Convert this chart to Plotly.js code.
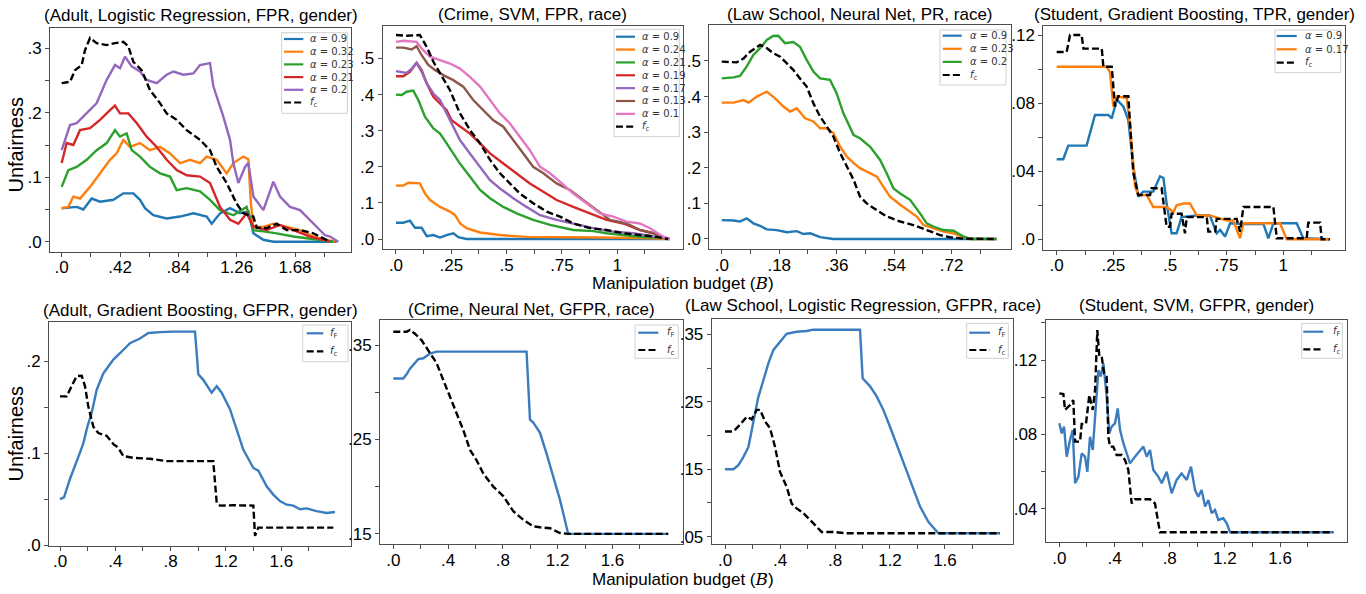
<!DOCTYPE html>
<html><head><meta charset="utf-8">
<script src="https://cdn.plot.ly/plotly-3.0.1.min.js"></script>
<style>html,body{margin:0;padding:0;background:#fff}#chart{width:1366px;height:594px}</style>
</head><body><div id="chart"></div>
<script>
// ===== Panel 1: (Adult, Logistic Regression, FPR, gender)
const p1_alpha = ['0.9','0.32','0.23','0.21','0.2'];
const p1_a09_x = [0,0.108,0.156,0.216,0.276,0.372,0.444,0.516,0.564,0.6,0.66,0.756,0.852,0.948,1.044,1.08,1.14,1.212,1.284,1.344,1.38,1.452,1.524,1.98];
const p1_a09_y = [0.052,0.054,0.05,0.067,0.062,0.065,0.075,0.075,0.065,0.052,0.041,0.036,0.039,0.044,0.039,0.028,0.044,0.052,0.044,0.047,0.013,0.003,0,0];
const p1_a032_x = [0,0.048,0.084,0.132,0.204,0.276,0.348,0.396,0.444,0.492,0.564,0.636,0.708,0.78,0.852,0.924,0.996,1.044,1.116,1.188,1.236,1.308,1.344,1.362,1.38,1.452,1.524,1.62,1.716,1.812,1.908,1.968];
const p1_a032_y = [0.052,0.054,0.07,0.067,0.085,0.106,0.127,0.137,0.158,0.147,0.153,0.142,0.147,0.137,0.122,0.127,0.122,0.132,0.127,0.106,0.122,0.132,0.128,0.06,0.023,0.023,0.028,0.023,0.018,0.008,0.003,0];
const p1_a023_x = [0,0.048,0.108,0.18,0.252,0.324,0.384,0.42,0.468,0.504,0.564,0.636,0.708,0.78,0.828,0.9,0.996,1.068,1.14,1.236,1.332,1.38,1.452,1.548,1.668,1.812,1.956];
const p1_a023_y = [0.085,0.111,0.116,0.127,0.142,0.153,0.173,0.163,0.168,0.142,0.132,0.116,0.106,0.101,0.080,0.083,0.078,0.065,0.049,0.041,0.054,0.018,0.016,0.013,0.008,0.004,0];
const p1_a021_x = [0,0.036,0.084,0.132,0.204,0.276,0.348,0.384,0.42,0.48,0.54,0.612,0.684,0.756,0.828,0.9,0.996,1.068,1.14,1.212,1.272,1.332,1.38,1.476,1.572,1.668,1.788,1.932];
const p1_a021_y = [0.122,0.153,0.150,0.173,0.176,0.189,0.204,0.211,0.199,0.199,0.184,0.163,0.147,0.127,0.111,0.103,0.101,0.091,0.054,0.034,0.028,0.044,0.023,0.018,0.026,0.018,0.008,0];
const p1_a02_x = [0,0.06,0.108,0.18,0.252,0.324,0.384,0.42,0.456,0.504,0.564,0.612,0.684,0.756,0.804,0.876,0.948,0.996,1.068,1.092,1.164,1.212,1.236,1.272,1.32,1.344,1.38,1.452,1.524,1.572,1.644,1.716,1.812,1.896,1.932,1.992];
const p1_a02_y = [0.142,0.181,0.184,0.199,0.215,0.251,0.274,0.269,0.287,0.272,0.264,0.251,0.246,0.259,0.264,0.259,0.261,0.274,0.277,0.241,0.194,0.158,0.122,0.091,0.116,0.122,0.070,0.049,0.093,0.070,0.054,0.049,0.028,0.010,0.008,0];
const p1_fc_x = [0,0.06,0.096,0.144,0.168,0.204,0.252,0.324,0.384,0.444,0.48,0.516,0.576,0.636,0.708,0.756,0.828,0.9,0.996,1.068,1.116,1.188,1.26,1.308,1.38,1.404,1.476,1.548,1.62,1.716,1.812,1.932];
const p1_fc_y = [0.246,0.248,0.266,0.274,0.297,0.316,0.308,0.305,0.308,0.310,0.303,0.279,0.266,0.235,0.215,0.199,0.189,0.173,0.158,0.142,0.116,0.091,0.059,0.044,0.039,0.022,0.021,0.028,0.018,0.018,0.013,0];
const p1_xticks = [0,0.42,0.84,1.26,1.68];
const p1_xlabels = ['.0','.42','.84','1.26','1.68'];
const p1_xminor = [0.21,0.63,1.05,1.47,1.89];
const p1_yticks = [0,0.1,0.2,0.3];
const p1_ylabels = ['.0','.1','.2','.3'];
const p1_yminor = [0.05,0.15,0.25];

// ===== Panel 2: (Crime, SVM, FPR, race)
const p2_alpha = ['0.9','0.24','0.21','0.19','0.17','0.13','0.1'];
const p2_a09_x = [0,0.033,0.063,0.086,0.116,0.139,0.169,0.199,0.229,0.259,0.282,0.319,1.238];
const p2_a09_y = [0.045,0.045,0.051,0.031,0.031,0.008,0.011,0.004,0.011,0.016,0.005,0,0];
const p2_a024_x = [0,0.033,0.056,0.108,0.131,0.154,0.199,0.244,0.267,0.29,0.319,0.380,0.470,0.590,0.801,1.102,1.238];
const p2_a024_y = [0.148,0.148,0.156,0.154,0.126,0.108,0.089,0.076,0.066,0.043,0.030,0.018,0.011,0.006,0.005,0.003,0];
const p2_a021_x = [0,0.026,0.048,0.078,0.101,0.131,0.169,0.199,0.229,0.259,0.289,0.334,0.380,0.425,0.485,0.545,0.620,0.696,0.801,0.892,0.952,1.027,1.102,1.208,1.238];
const p2_a021_y = [0.400,0.399,0.408,0.411,0.385,0.339,0.306,0.292,0.265,0.237,0.209,0.173,0.136,0.113,0.089,0.071,0.053,0.039,0.025,0.022,0.016,0.011,0.006,0.003,0];
const p2_a019_x = [0,0.033,0.063,0.093,0.116,0.139,0.169,0.199,0.229,0.251,0.289,0.334,0.380,0.425,0.485,0.545,0.605,0.666,0.726,0.801,0.877,0.952,1.027,1.102,1.163,1.208,1.230];
const p2_a019_y = [0.451,0.451,0.463,0.488,0.468,0.431,0.394,0.375,0.357,0.329,0.311,0.292,0.265,0.237,0.209,0.182,0.154,0.131,0.108,0.089,0.071,0.053,0.043,0.025,0.016,0.006,0];
const p2_a017_x = [0,0.048,0.071,0.093,0.116,0.139,0.169,0.199,0.229,0.259,0.289,0.334,0.380,0.425,0.470,0.530,0.590,0.651,0.726,0.801,0.892,0.983,1.072,1.178,1.238];
const p2_a017_y = [0.465,0.460,0.472,0.488,0.463,0.431,0.403,0.385,0.348,0.311,0.274,0.237,0.200,0.163,0.140,0.113,0.089,0.066,0.053,0.043,0.030,0.020,0.016,0.006,0];
const p2_a013_x = [0,0.033,0.071,0.093,0.116,0.146,0.176,0.214,0.259,0.304,0.349,0.395,0.440,0.485,0.530,0.575,0.620,0.666,0.726,0.786,0.846,0.907,0.967,1.042,1.102,1.163,1.223];
const p2_a013_y = [0.530,0.530,0.525,0.534,0.509,0.482,0.468,0.454,0.440,0.422,0.385,0.357,0.329,0.311,0.274,0.237,0.200,0.182,0.154,0.136,0.108,0.080,0.053,0.043,0.025,0.016,0];
const p2_a01_x = [0,0.033,0.093,0.123,0.154,0.199,0.244,0.289,0.334,0.380,0.425,0.470,0.515,0.560,0.605,0.651,0.696,0.741,0.801,0.861,0.922,0.982,1.042,1.102,1.148,1.208,1.238];
const p2_a01_y = [0.546,0.549,0.546,0.523,0.505,0.495,0.486,0.472,0.449,0.422,0.385,0.348,0.320,0.283,0.246,0.200,0.182,0.159,0.126,0.099,0.071,0.062,0.048,0.043,0.030,0.006,0];
const p2_fc_x = [0,0.048,0.108,0.139,0.169,0.199,0.244,0.289,0.334,0.380,0.425,0.470,0.515,0.560,0.620,0.681,0.741,0.801,0.877,0.952,1.027,1.102,1.178,1.230];
const p2_fc_y = [0.565,0.563,0.565,0.532,0.491,0.458,0.412,0.348,0.302,0.265,0.219,0.182,0.154,0.126,0.099,0.076,0.062,0.043,0.030,0.025,0.016,0.011,0.006,0];
const p2_xticks = [0,0.25,0.5,0.75,1];
const p2_xlabels = ['.0','.25','.5','.75','1'];
const p2_xminor = [0.125,0.375,0.625,0.875,1.125];
const p2_yticks = [0,0.1,0.2,0.3,0.4,0.5];
const p2_ylabels = ['.0','.1','.2','.3','.4','.5'];
const p2_yminor = [];

// ===== Panel 3: (Law School, Neural Net, PR, race)
const p3_alpha = ['0.9','0.23','0.2'];
const p3_a09_x = [0,0.037,0.057,0.078,0.099,0.12,0.141,0.172,0.204,0.235,0.256,0.277,0.308,0.350,0.861];
const p3_a09_y = [0.053,0.052,0.049,0.058,0.044,0.037,0.027,0.025,0.019,0.022,0.014,0.016,0.005,0,0];
const p3_a023_x = [0,0.037,0.068,0.084,0.110,0.141,0.167,0.193,0.214,0.235,0.261,0.287,0.308,0.329,0.350,0.371,0.392,0.413,0.433,0.465,0.486,0.506,0.527,0.559,0.590,0.611,0.632,0.663,0.695,0.726,0.757,0.778,0.861];
const p3_a023_y = [0.383,0.383,0.390,0.383,0.400,0.414,0.395,0.372,0.358,0.367,0.339,0.330,0.311,0.311,0.297,0.259,0.231,0.213,0.199,0.184,0.175,0.147,0.119,0.096,0.077,0.063,0.039,0.030,0.021,0.016,0.005,0,0];
const p3_a02_x = [0,0.037,0.057,0.078,0.099,0.120,0.141,0.161,0.177,0.198,0.224,0.245,0.266,0.287,0.308,0.339,0.360,0.381,0.413,0.433,0.465,0.496,0.517,0.538,0.559,0.590,0.621,0.642,0.663,0.694,0.726,0.757,0.778,0.861];
const p3_a02_y = [0.451,0.454,0.458,0.484,0.517,0.536,0.559,0.570,0.571,0.550,0.553,0.540,0.503,0.470,0.451,0.447,0.409,0.353,0.292,0.283,0.259,0.222,0.184,0.142,0.128,0.110,0.072,0.044,0.035,0.025,0.023,0.007,0,0];
const p3_fc_x = [0,0.047,0.068,0.089,0.120,0.141,0.161,0.183,0.204,0.224,0.245,0.266,0.287,0.308,0.329,0.350,0.371,0.392,0.413,0.433,0.454,0.485,0.517,0.559,0.600,0.642,0.684,0.715,0.757,0.861];
const p3_fc_y = [0.498,0.496,0.507,0.526,0.545,0.536,0.522,0.512,0.493,0.475,0.451,0.428,0.381,0.344,0.316,0.287,0.241,0.203,0.166,0.119,0.100,0.081,0.063,0.049,0.039,0.025,0.011,0.005,0.001,0];
const p3_xticks = [0,0.18,0.36,0.54,0.72];
const p3_xlabels = ['.0','.18','.36','.54','.72'];
const p3_xminor = [0.09,0.27,0.45,0.63,0.81];
const p3_yticks = [0,0.1,0.2,0.3,0.4,0.5];
const p3_ylabels = ['.0','.1','.2','.3','.4','.5'];
const p3_yminor = [];

// ===== Panel 4: (Student, Gradient Boosting, TPR, gender)
const p4_alpha = ['0.9','0.17'];
const p4_a09_x = [0,0.029,0.051,0.132,0.169,0.228,0.243,0.265,0.294,0.316,0.338,0.360,0.382,0.426,0.456,0.471,0.485,0.507,0.529,0.551,0.618,0.676,0.706,0.721,0.743,0.765,0.824,0.912,0.934,0.956,1.059,1.088,1.206];
const p4_a09_y = [0.047,0.047,0.055,0.055,0.073,0.073,0.071,0.082,0.078,0.070,0.043,0.025,0.028,0.028,0.037,0.036,0.021,0.0035,0.0035,0.013,0.014,0.014,0.0035,0.0055,0.0016,0.0094,0.009,0.009,0.0006,0.0094,0.0094,0.0006,0];
const p4_a017_x = [0,0.221,0.235,0.250,0.265,0.309,0.324,0.346,0.360,0.397,0.426,0.485,0.515,0.529,0.559,0.588,0.618,0.676,0.75,0.779,0.809,0.824,0.985,1.015,1.206];
const p4_a017_y = [0.1014,0.1014,0.098,0.078,0.084,0.083,0.066,0.031,0.026,0.026,0.019,0.019,0.016,0.020,0.021,0.021,0.014,0.014,0.011,0.011,0.0006,0.0094,0.0094,0,0];
const p4_fc_x = [0,0.044,0.059,0.110,0.118,0.199,0.206,0.243,0.257,0.272,0.316,0.338,0.360,0.412,0.419,0.463,0.485,0.5,0.507,0.551,0.566,0.574,0.662,0.669,0.699,0.706,0.794,0.809,0.824,0.956,0.971,1.103,1.110,1.162,1.169,1.206];
const p4_fc_y = [0.110,0.110,0.120,0.120,0.112,0.112,0.1014,0.1014,0.078,0.084,0.084,0.039,0.026,0.026,0.030,0.030,0.0074,0.0074,0.015,0.015,0.0035,0.013,0.013,0.0045,0.0045,0.012,0.012,0.0045,0.019,0.019,0.0006,0.0006,0.0098,0.0098,0,0];
const p4_xticks = [0,0.25,0.5,0.75,1];
const p4_xlabels = ['.0','.25','.5','.75','1'];
const p4_xminor = [0.125,0.375,0.625,0.875,1.125];
const p4_yticks = [0,0.04,0.08,0.12];
const p4_ylabels = ['.0','.04','.08','.12'];
const p4_yminor = [0.02,0.06,0.10];

// ===== Panel 5: (Adult, Gradient Boosting, GFPR, gender)
const p5_fF_x = [0,0.029,0.072,0.120,0.145,0.169,0.198,0.229,0.265,0.313,0.386,0.434,0.506,0.578,0.639,0.723,0.819,0.976,1.0,1.036,1.096,1.133,1.169,1.229,1.277,1.325,1.398,1.434,1.494,1.542,1.590,1.639,1.687,1.735,1.783,1.855,1.928,1.988];
const p5_fF_y = [0.050,0.052,0.072,0.090,0.101,0.111,0.129,0.144,0.169,0.187,0.202,0.209,0.220,0.225,0.231,0.232,0.2325,0.2325,0.186,0.180,0.166,0.173,0.166,0.148,0.126,0.104,0.084,0.081,0.064,0.055,0.048,0.044,0.043,0.039,0.040,0.037,0.035,0.036];
const p5_fc_x = [0,0.048,0.084,0.120,0.157,0.181,0.205,0.241,0.277,0.337,0.386,0.422,0.458,0.530,0.651,0.771,1.108,1.133,1.157,1.253,1.398,1.410,1.434,1.976];
const p5_fc_y = [0.162,0.162,0.173,0.184,0.1845,0.173,0.151,0.129,0.122,0.119,0.110,0.106,0.097,0.095,0.094,0.0915,0.0915,0.046,0.043,0.0434,0.043,0.010,0.019,0.019];
const p5_yticks = [0,0.1,0.2];
const p5_ylabels = ['.0','.1','.2'];
const p5_yminor = [0.05,0.15];

// ===== Panel 6: (Crime, Neural Net, GFPR, race)
const p6_fF_x = [0,0.073,0.097,0.122,0.182,0.219,0.268,0.316,0.973,0.998,1.022,1.071,1.119,1.168,1.217,1.277,2.007];
const p6_fF_y = [0.3145,0.3145,0.319,0.325,0.335,0.336,0.341,0.343,0.343,0.271,0.268,0.257,0.235,0.211,0.186,0.150,0.150];
const p6_fc_x = [0,0.097,0.122,0.158,0.207,0.268,0.316,0.365,0.414,0.462,0.511,0.560,0.608,0.657,0.730,0.803,0.876,0.949,1.022,1.071,1.144,1.217,1.277,2.007];
const p6_fc_y = [0.364,0.364,0.366,0.362,0.355,0.341,0.331,0.313,0.295,0.278,0.260,0.239,0.228,0.214,0.200,0.190,0.174,0.165,0.158,0.157,0.156,0.151,0.150,0.150];
const p6_yticks = [0.15,0.25,0.35];
const p6_ylabels = ['.15','.25','.35'];
const p6_yminor = [0.2,0.3];

// ===== Panel 7: (Law School, Logistic Regression, GFPR, race)
const p7_fF_x = [0,0.061,0.097,0.133,0.170,0.206,0.242,0.279,0.315,0.352,0.400,0.448,0.521,0.594,0.642,0.982,1.001,1.055,1.103,1.152,1.2,1.273,1.345,1.418,1.479,1.552,2.0];
const p7_fF_y = [0.150,0.150,0.156,0.168,0.183,0.218,0.257,0.282,0.307,0.327,0.339,0.351,0.354,0.355,0.357,0.357,0.285,0.273,0.258,0.238,0.213,0.174,0.134,0.095,0.072,0.055,0.055];
const p7_fc_x = [0,0.061,0.109,0.158,0.194,0.230,0.255,0.291,0.327,0.364,0.400,0.448,0.485,0.521,0.570,0.618,0.667,0.703,0.788,0.885,2.0];
const p7_fc_y = [0.206,0.206,0.216,0.228,0.224,0.238,0.238,0.221,0.211,0.183,0.146,0.124,0.099,0.092,0.085,0.075,0.065,0.057,0.057,0.055,0.055];
const p7_yticks = [0.05,0.15,0.25,0.35];
const p7_ylabels = ['.05','.15','.25','.35'];
const p7_yminor = [0.1,0.2,0.3];

// ===== Panel 8: (Student, SVM, GFPR, gender)
const p8_fF_x = [0,0.017,0.034,0.053,0.077,0.097,0.114,0.138,0.162,0.186,0.203,0.222,0.242,0.266,0.283,0.300,0.319,0.343,0.362,0.379,0.403,0.423,0.440,0.464,0.488,0.512,0.548,0.585,0.609,0.633,0.657,0.681,0.717,0.742,0.778,0.814,0.850,0.886,0.923,0.954,0.983,1.007,1.031,1.056,1.080,1.104,1.128,1.152,1.188,1.213,1.237,1.986];
const p8_fF_y = [0.0860,0.0806,0.0842,0.0681,0.0770,0.0824,0.0538,0.0574,0.0699,0.0681,0.0600,0.0788,0.0717,0.0985,0.1146,0.1111,0.1182,0.1003,0.0806,0.0842,0.0860,0.0940,0.0824,0.0753,0.0699,0.0645,0.0681,0.0717,0.0735,0.0681,0.0717,0.0609,0.0574,0.0538,0.0600,0.0484,0.0556,0.0591,0.0556,0.0627,0.0502,0.0466,0.0502,0.0413,0.0448,0.0377,0.0395,0.0341,0.0350,0.0323,0.0275,0.0275];
const p8_fc_x = [0,0.029,0.041,0.077,0.101,0.114,0.150,0.162,0.193,0.217,0.242,0.259,0.275,0.290,0.307,0.324,0.343,0.355,0.367,0.391,0.415,0.452,0.476,0.500,0.524,0.548,0.657,0.693,0.729,1.986];
const p8_fc_y = [0.1021,0.1017,0.0932,0.0958,0.0985,0.0762,0.0762,0.0857,0.0857,0.1012,0.0932,0.1039,0.1361,0.1218,0.1218,0.1128,0.1110,0.0788,0.0735,0.0735,0.0690,0.0690,0.0663,0.0609,0.0430,0.0452,0.0452,0.0430,0.0275,0.0275];
const p8_yticks = [0.04,0.08,0.12];
const p8_ylabels = ['.04','.08','.12'];
const p8_yminor = [0.06,0.10,0.14];

// shared bottom-row x ticks
const bot_xticks = [0,0.4,0.8,1.2,1.6];
const bot_xlabels = ['.0','.4','.8','1.2','1.6'];
const bot_xminor = [0.2,0.6,1.0,1.4,1.8];

// ===== styling
const W = 1366, H = 594;
const COL = {blue:'#1f77b4', orange:'#ff7f0e', green:'#2ca02c', red:'#d62728', purple:'#9467bd', brown:'#8c564b', pink:'#e377c2', black:'#000000', fF:'#3a7cbf'};
const tab = [COL.blue, COL.orange, COL.green, COL.red, COL.purple, COL.brown, COL.pink];
const DASH = '7px,3.2px';
const FONT = 'Liberation Sans, Arial, Helvetica, sans-serif';
const LFONT = 'DejaVu Sans, sans-serif';
const FC = '<i>f</i><sub>c</sub>';
const FF = '<i>f</i><sub>F</sub>';

function alphaSeries(alphas, xs, ys, fcx, fcy) {
  const s = alphas.map((a, i) => ({x: xs[i], y: ys[i], color: tab[i], dash: 'solid', label: '<i>α</i> = ' + a}));
  s.push({x: fcx, y: fcy, color: COL.black, dash: DASH, label: FC});
  return s;
}

const panels = [
  {title:'(Adult, Logistic Regression, FPR, gender)', ty:15.5, box:[50,351,28.3,251.7], xr:[-0.084,2.083], yr:[-0.0155,0.331],
   xt:p1_xticks, xl:p1_xlabels, xm:p1_xminor, yt:p1_yticks, yl:p1_ylabels, ym:p1_yminor,
   series: alphaSeries(p1_alpha, [p1_a09_x,p1_a032_x,p1_a023_x,p1_a021_x,p1_a02_x], [p1_a09_y,p1_a032_y,p1_a023_y,p1_a021_y,p1_a02_y], p1_fc_x, p1_fc_y),
   leg:{box:[281.7,347.3,32.7,113.3], y0:39, dy:12.7, lx:[284,303.3], tx:308.3}},
  {title:'(Crime, SVM, FPR, race)', ty:14, box:[382.7,683,26,249.3], xr:[-0.060,1.297], yr:[-0.0285,0.590],
   xt:p2_xticks, xl:p2_xlabels, xm:p2_xminor, yt:p2_yticks, yl:p2_ylabels, ym:p2_yminor,
   series: alphaSeries(p2_alpha, [p2_a09_x,p2_a024_x,p2_a021_x,p2_a019_x,p2_a017_x,p2_a013_x,p2_a01_x], [p2_a09_y,p2_a024_y,p2_a021_y,p2_a019_y,p2_a017_y,p2_a013_y,p2_a01_y], p2_fc_x, p2_fc_y),
   leg:{box:[614,679.3,29.3,136.7], y0:36.7, dy:12.86, lx:[616,635], tx:640}},
  {title:'(Law School, Neural Net, PR, race)', ty:14, box:[709.3,1011,25,249.3], xr:[-0.039,0.906], yr:[-0.029,0.601],
   xt:p3_xticks, xl:p3_xlabels, xm:p3_xminor, yt:p3_yticks, yl:p3_ylabels, ym:p3_yminor,
   series: alphaSeries(p3_alpha, [p3_a09_x,p3_a023_x,p3_a02_x], [p3_a09_y,p3_a023_y,p3_a02_y], p3_fc_x, p3_fc_y),
   leg:{box:[940,1006,30,85], y0:35.7, dy:13.1, lx:[942.7,961.7], tx:968.3}},
  {title:'(Student, Gradient Boosting, TPR, gender)', ty:14, box:[1043.3,1345,26,250], xr:[-0.059,1.272], yr:[-0.0063,0.1253],
   xt:p4_xticks, xl:p4_xlabels, xm:p4_xminor, yt:p4_yticks, yl:p4_ylabels, ym:p4_yminor,
   series: alphaSeries(p4_alpha, [p4_a09_x,p4_a017_x], [p4_a09_y,p4_a017_y], p4_fc_x, p4_fc_y),
   leg:{box:[1275,1340.7,30,72.7], y0:36, dy:13.3, lx:[1276.7,1296.7], tx:1302.7}},
  {title:'(Adult, Gradient Boosting, GFPR, gender)', ty:310, box:[49,351,322.3,546], xr:[-0.0795,2.104], yr:[-0.001,0.2427],
   xt:bot_xticks, xl:bot_xlabels, xm:bot_xminor, yt:p5_yticks, yl:p5_ylabels, ym:p5_yminor,
   series:[{x:p5_fF_x,y:p5_fF_y,color:COL.fF,dash:'solid',label:FF},{x:p5_fc_x,y:p5_fc_y,color:COL.black,dash:DASH,label:FC}],
   leg:{box:[302.7,348,325,361.7], y0:333.3, dy:18, lx:[306.7,323.3], tx:328.3}},
  {title:'(Crime, Neural Net, GFPR, race)', ty:309, box:[380,683,320,544.3], xr:[-0.097,2.115], yr:[0.139,0.3765],
   xt:bot_xticks, xl:bot_xlabels, xm:bot_xminor, yt:p6_yticks, yl:p6_ylabels, ym:p6_yminor,
   series:[{x:p6_fF_x,y:p6_fF_y,color:COL.fF,dash:'solid',label:FF},{x:p6_fc_x,y:p6_fc_y,color:COL.black,dash:DASH,label:FC}],
   leg:{box:[635,678.3,325,358.3], y0:332.7, dy:17.3, lx:[638.3,658.3], tx:665}},
  {title:'(Law School, Logistic Regression, GFPR, race)', ty:305, box:[711.7,1013.3,319.3,544.3], xr:[-0.097,2.097], yr:[0.0387,0.3724],
   xt:bot_xticks, xl:bot_xlabels, xm:bot_xminor, yt:p7_yticks, yl:p7_ylabels, ym:p7_yminor,
   series:[{x:p7_fF_x,y:p7_fF_y,color:COL.fF,dash:'solid',label:FF},{x:p7_fc_x,y:p7_fc_y,color:COL.black,dash:DASH,label:FC}],
   leg:{box:[966.7,1008.3,323.3,358.3], y0:332.7, dy:17.3, lx:[969.3,990], tx:996}},
  {title:'(Student, SVM, GFPR, gender)', ty:305, box:[1045.7,1347.3,320,542.3], xr:[-0.099,2.087], yr:[0.0221,0.1415],
   xt:bot_xticks, xl:bot_xlabels, xm:bot_xminor, yt:p8_yticks, yl:p8_ylabels, ym:p8_yminor,
   series:[{x:p8_fF_x,y:p8_fF_y,color:COL.fF,dash:'solid',label:FF},{x:p8_fc_x,y:p8_fc_y,color:COL.black,dash:DASH,label:FC}],
   leg:{box:[1301.7,1342.3,323.3,358.3], y0:331.7, dy:17.6, lx:[1303.3,1323.3], tx:1330.7}}
];

const px = v => v / W;
const py = v => 1 - v / H;

const traces = [];
const layout = {
  width: W, height: H, margin: {l:0, r:0, t:0, b:0},
  paper_bgcolor: '#fff', plot_bgcolor: '#fff', showlegend: false,
  font: {family: FONT, color: '#000'},
  shapes: [], annotations: []
};

panels.forEach((p, i) => {
  const n = i + 1;
  const xa = 'x' + (n === 1 ? '' : n), ya = 'y' + (n === 1 ? '' : n);
  const xk = 'xaxis' + (n === 1 ? '' : n), yk = 'yaxis' + (n === 1 ? '' : n);
  const [l, r, t, b] = p.box;
  const common = {showline:true, mirror:true, linecolor:'#4d4d4d', linewidth:1, ticks:'outside', ticklen:4, tickwidth:1,
    tickcolor:'#4d4d4d', tickmode:'array', showgrid:false, zeroline:false, fixedrange:true,
    tickfont:{size:17, family:FONT, color:'#000'}};
  const minor = vals => ({tickmode:'array', tickvals:vals, ticks: vals.length ? 'outside' : '', ticklen:4, tickwidth:1, tickcolor:'#4d4d4d', showgrid:false});
  layout[xk] = Object.assign({}, common, {domain:[px(l), px(r)], range:p.xr, anchor:ya, tickvals:p.xt, ticktext:p.xl, ticklabelstandoff:-4, minor:minor(p.xm)});
  layout[yk] = Object.assign({}, common, {domain:[py(b), py(t)], range:p.yr, anchor:xa, tickvals:p.yt, ticktext:p.yl, minor:minor(p.ym)});
  p.series.forEach(s => {
    traces.push({type:'scatter', mode:'lines', x:s.x, y:s.y, xaxis:xa, yaxis:ya, hoverinfo:'skip',
      line:{color:s.color, width: 2.4, dash:s.dash}});
  });
  // title
  layout.annotations.push({xref:'paper', yref:'paper', x:px((l + r) / 2), y:py(p.ty), text:p.title, showarrow:false,
    xanchor:'center', yanchor:'middle', font:{size:17, family:FONT, color:'#000'}});
  // legend
  const L = p.leg;
  layout.shapes.push({type:'rect', xref:'paper', yref:'paper', x0:px(L.box[0]), x1:px(L.box[1]), y0:py(L.box[3]), y1:py(L.box[2]),
    line:{color:'#d0d0d0', width:1}, fillcolor:'rgba(255,255,255,0.85)', layer:'above'});
  p.series.forEach((s, k) => {
    const yy = L.y0 + k * L.dy;
    layout.shapes.push({type:'line', xref:'paper', yref:'paper', x0:px(L.lx[0]), x1:px(L.lx[1]), y0:py(yy), y1:py(yy),
      line:{color:s.color, width:2.2, dash:s.dash}, layer:'above'});
    layout.annotations.push({xref:'paper', yref:'paper', x:px(L.tx), y:py(yy), text:s.label, showarrow:false,
      xanchor:'left', yanchor:'middle', font:{size:10, family:LFONT, color:'#333'}});
  });
});

// shared axis labels
[145, 434].forEach(yv => layout.annotations.push({xref:'paper', yref:'paper', x:px(15.5), y:py(yv), text:'Unfairness',
  textangle:-90, showarrow:false, xanchor:'center', yanchor:'middle', font:{size:20, family:FONT, color:'#000'}}));
[283, 579].forEach(yv => layout.annotations.push({xref:'paper', yref:'paper', x:px(683), y:py(yv),
  text:'Manipulation budget (<span style="font-family:\'DejaVu Serif\',serif"><i>B</i></span>)', showarrow:false,
  xanchor:'center', yanchor:'middle', font:{size:17, family:FONT, color:'#000'}}));

Plotly.newPlot('chart', traces, layout, {displayModeBar:false, staticPlot:true});
</script>
</body></html>
